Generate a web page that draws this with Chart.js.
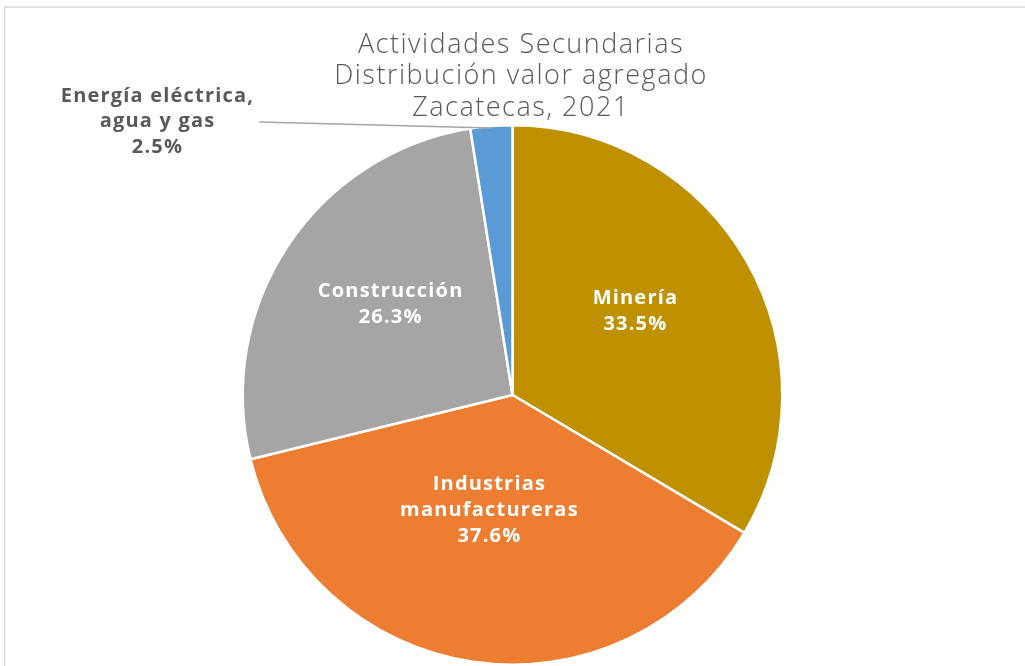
<!DOCTYPE html>
<html>
<head>
<meta charset="utf-8">
<script src="https://cdn.jsdelivr.net/npm/chart.js@4.4.1/dist/chart.umd.min.js"></script>
<style>
  html, body { margin: 0; padding: 0; background: #fff; }
  #wrap { width: 1025px; height: 666px; position: relative; }
</style>
</head>
<body>
<div id="wrap"><canvas id="chart"></canvas></div>
<script>
// chart data
var categories = ['Minería', 'Industrias manufactureras', 'Construcción', 'Energía eléctrica, agua y gas'];
var shares = [33.5, 37.6, 26.3, 2.5];
var sliceLines = [['Minería'], ['Industrias', 'manufactureras'], ['Construcción'], ['Energía eléctrica,', 'agua y gas']];
var sliceColors = ['#BF9000', '#ED7D31', '#A5A5A5', '#5B9BD5'];
var titleLines = ['Actividades Secundarias', 'Distribución valor agregado', 'Zacatecas, 2021'];

var FONT = '"Open Sans", sans-serif';

// frame around the chart (top and left edges only are visible)
var framePlugin = {
	id: 'frame',
	beforeDraw: function(chart) {
		var ctx = chart.ctx;
		ctx.save();
		ctx.strokeStyle = '#d9d9d9';
		ctx.lineWidth = 1.5;
		ctx.beginPath();
		ctx.moveTo(4.5, 666);
		ctx.lineTo(4.5, 7);
		ctx.lineTo(1025, 7);
		ctx.stroke();
		ctx.restore();
	}
};

// title, drawn a bit right of the pie center like the original
var titlePlugin = {
	id: 'titleLines',
	afterDraw: function(chart) {
		var ctx = chart.ctx;
		ctx.save();
		ctx.fillStyle = '#595959';
		ctx.font = '300 27px ' + FONT;
		ctx.letterSpacing = '1.5px';
		ctx.textAlign = 'center';
		ctx.textBaseline = 'middle';
		for (var i = 0; i < titleLines.length; i++) {
			ctx.fillText(titleLines[i], 521, 45 + i * 31.5);
		}
		ctx.restore();
	}
};

// data labels: inside for big slices, outside with a leader line for the small one
var labelPlugin = {
	id: 'sliceLabels',
	afterDatasetsDraw: function(chart) {
		var ctx = chart.ctx;
		var meta = chart.getDatasetMeta(0);
		// how far out from the center each inside label sits (fraction of radius), plus a nudge
		var radial = [0.55, 0.43, 0.56];
		var nudge = [[-6, -10], [-6, 1], [4, -7]];
		var lineH = 26;
		ctx.save();
		ctx.font = 'bold 20px ' + FONT;
		ctx.letterSpacing = '1.2px';
		ctx.textAlign = 'center';
		ctx.textBaseline = 'middle';
		meta.data.forEach(function(arc, i) {
			var p = arc.getProps(['x', 'y', 'startAngle', 'endAngle', 'outerRadius']);
			var mid = (p.startAngle + p.endAngle) / 2;
			var pct = (shares[i]).toFixed(1) + '%';
			var lines = sliceLines[i].concat([pct]);
			if (i < 3) {
				var r = p.outerRadius * radial[i];
				var cx = p.x + Math.cos(mid) * r + nudge[i][0];
				var cy = p.y + Math.sin(mid) * r + nudge[i][1];
				ctx.fillStyle = '#ffffff';
				var y0 = cy - (lines.length - 1) * lineH / 2;
				for (var k = 0; k < lines.length; k++) {
					ctx.fillText(lines[k], cx, y0 + k * lineH);
				}
			} else {
				// leader line from slice edge out to the left
				var sx = p.x + Math.cos(mid) * (p.outerRadius - 2);
				var sy = p.y + Math.sin(mid) * (p.outerRadius - 2);
				var ex = sx - 232;
				var ey = sy - 6;
				ctx.strokeStyle = '#a6a6a6';
				ctx.lineWidth = 1.5;
				ctx.beginPath();
				ctx.moveTo(sx, sy);
				ctx.lineTo(ex, ey);
				ctx.stroke();
				ctx.fillStyle = '#595959';
				var tx = ex - 102;
				var ty0 = ey - 26;
				for (var k2 = 0; k2 < lines.length; k2++) {
					ctx.fillText(lines[k2], tx, ty0 + k2 * 25.5);
				}
			}
		});
		ctx.restore();
	}
};

var chart = new Chart(document.getElementById('chart'), {
	type: 'pie',
	data: {
		labels: categories,
		datasets: [{
			data: shares,
			backgroundColor: sliceColors,
			borderColor: '#ffffff',
			borderWidth: 2.5
		}]
	},
	options: {
		responsive: true,
		maintainAspectRatio: false,
		animation: false,
		layout: { padding: { top: 124, bottom: 0, left: 0, right: 0 } },
		plugins: {
			legend: { display: false },
			tooltip: { enabled: false },
			title: { display: false }
		}
	},
	plugins: [framePlugin, titlePlugin, labelPlugin]
});
</script>
</body>
</html>
